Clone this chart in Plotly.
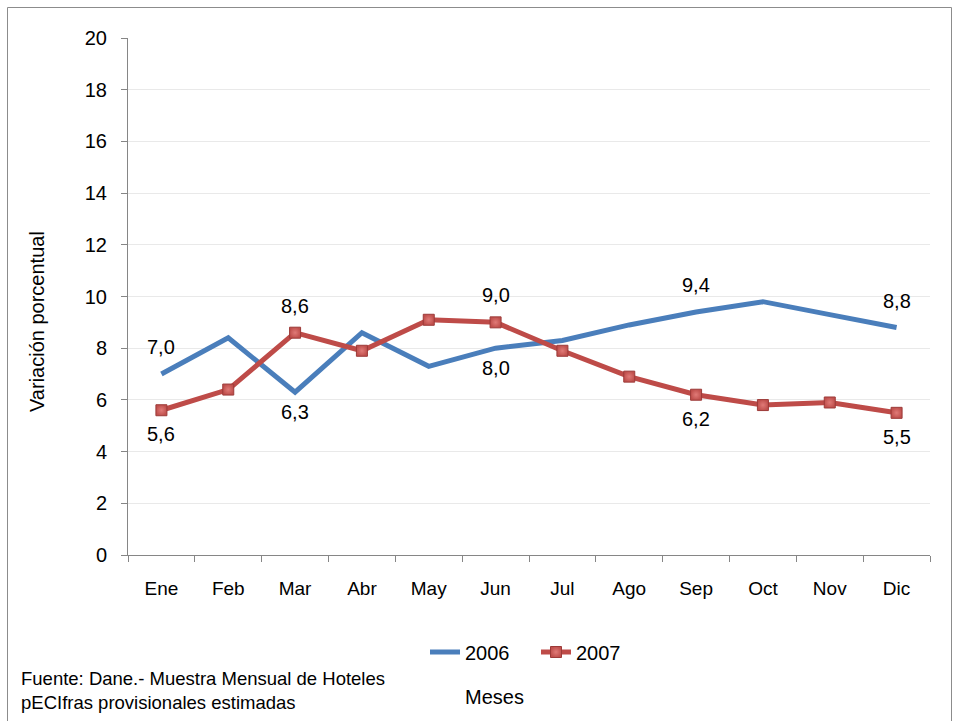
import plotly.graph_objects as go

meses = ["Ene", "Feb", "Mar", "Abr", "May", "Jun", "Jul", "Ago", "Sep", "Oct", "Nov", "Dic"]
v2006 = [7.0, 8.4, 6.3, 8.6, 7.3, 8.0, 8.3, 8.9, 9.4, 9.8, 9.3, 8.8]
v2007 = [5.6, 6.4, 8.6, 7.9, 9.1, 9.0, 7.9, 6.9, 6.2, 5.8, 5.9, 5.5]
y_ticks = [0, 2, 4, 6, 8, 10, 12, 14, 16, 18, 20]

# which points get a data label, and whether it sits above (+1) or below (-1)
lab2006 = {0: 1, 2: -1, 5: -1, 8: 1, 11: 1}
lab2007 = {0: -1, 2: 1, 5: 1, 8: -1, 11: -1}

FONT = "Liberation Sans, Arial, sans-serif"
BLUE = "#4a7ebb"
RED = "#be4b48"

# plot area in page pixels
PL, PT, PW, PH = 128, 38, 802, 517
PB = PT + PH


def px(x):
    return (x - PL) / PW


def py(y):
    return (PB - y) / PH


fig = go.Figure()
fig.add_trace(go.Scatter(x=meses, y=v2006, name="2006", mode="lines",
                         line=dict(color=BLUE, width=5)))
fig.add_trace(go.Scatter(x=meses, y=v2007, name="2007", mode="lines+markers",
                         line=dict(color=RED, width=5),
                         marker=dict(symbol="square", size=11, color="#c0504d",
                                     line=dict(color="#9c3a38", width=1),
                                     gradient=dict(type="radial", color="#e07a77"))))


def fmt(v):
    return f"{v:.1f}".replace(".", ",")


for series, labs, below in ((v2006, lab2006, -20), (v2007, lab2007, -24)):
    for i, pos in labs.items():
        fig.add_annotation(x=meses[i], y=series[i], text=fmt(series[i]), showarrow=False,
                           yshift=27 if pos > 0 else below,
                           font=dict(family=FONT, size=20, color="#000000"))

# Outer chart border
fig.add_shape(type="rect", xref="paper", yref="paper",
              x0=px(7.5), x1=px(951.5), y0=py(740), y1=py(7.5),
              line=dict(color="#8c8c8c", width=1), layer="below")

# Y axis title
fig.add_annotation(xref="paper", yref="paper", x=px(37), y=py(322),
                   xanchor="center", yanchor="middle",
                   text="Variación porcentual", textangle=-90, showarrow=False,
                   font=dict(family=FONT, size=20, color="#000000"))
# X axis title
fig.add_annotation(xref="paper", yref="paper", x=px(494), y=py(697),
                   xanchor="center", yanchor="middle",
                   text="Meses", showarrow=False,
                   font=dict(family=FONT, size=20, color="#000000"))
# Footnotes
fig.add_annotation(xref="paper", yref="paper", x=px(19), y=py(678),
                   xanchor="left", yanchor="middle",
                   text="Fuente: Dane.- Muestra Mensual de Hoteles", showarrow=False,
                   font=dict(family=FONT, size=18.5, color="#000000"))
fig.add_annotation(xref="paper", yref="paper", x=px(19), y=py(702),
                   xanchor="left", yanchor="middle",
                   text="pECIfras provisionales estimadas", showarrow=False,
                   font=dict(family=FONT, size=18.5, color="#000000"))

fig.update_layout(
    width=958, height=721,
    margin=dict(l=PL, r=958 - PL - PW, t=PT, b=721 - PT - PH),
    paper_bgcolor="white", plot_bgcolor="white",
    font=dict(family=FONT, size=20, color="#000000"),
    showlegend=True,
    legend=dict(orientation="h", x=px(425), y=py(652),
                xanchor="left", yanchor="middle", entrywidth=66,
                font=dict(family=FONT, size=20), bgcolor="rgba(0,0,0,0)"),
    xaxis=dict(type="category", range=[-0.5, 11.5], tickson="boundaries",
               ticks="outside", ticklen=6, tickcolor="#868686",
               showline=True, linecolor="#868686", linewidth=1,
               showgrid=False, ticklabelstandoff=16,
               tickfont=dict(family=FONT, size=19)),
    yaxis=dict(range=[0, 20], tickvals=y_ticks, ticks="outside", ticklen=6,
               tickcolor="#868686", showline=True, linecolor="#868686", linewidth=1,
               showgrid=True, gridcolor="#e9e9e9", gridwidth=1, zeroline=False,
               ticklabelstandoff=10,
               tickfont=dict(family=FONT, size=20)),
)

fig.write_html("out.html", config={"displayModeBar": False},
               post_script="document.body.style.margin='0';")
